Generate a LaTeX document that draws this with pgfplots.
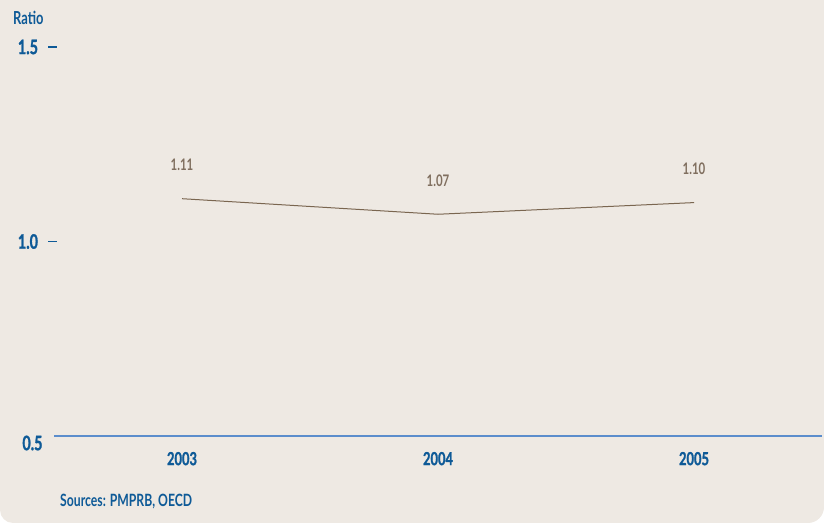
\documentclass[border=0pt]{standalone}
\usepackage{pgfplots}
\pgfplotsset{compat=1.18}
\usepackage{fontspec}
\setmainfont{Lato}[FakeStretch=0.72]
\newfontfamily\heavy{Lato}[FakeStretch=0.72, FakeBold=1.2]
\definecolor{bg}{HTML}{EEE9E3}
\definecolor{lblue}{HTML}{0E5A97}
\definecolor{ablue}{HTML}{5B8DCC}
\definecolor{lbrown}{HTML}{7A6650}
\definecolor{dlab}{HTML}{806F5F}
\begin{document}
\begin{tikzpicture}[x=1bp,y=1bp]
\path[use as bounding box] (0,0) rectangle (824,523);
\fill[bg] (0,523) -- (824,523) -- (824,16) arc[start angle=0,end angle=-90,radius=16] -- (13,0) arc[start angle=270,end angle=180,radius=13] -- cycle;
\begin{axis}[
  at={(54bp,87bp)}, anchor=south west,
  scale only axis, width=768bp, height=389bp,
  xmin=-0.5, xmax=2.5, ymin=0.5, ymax=1.5,
  axis x line=bottom, axis y line=left,
  x axis line style={color=ablue, draw=ablue, line width=1.2bp, -},
  y axis line style={draw=none},
  xtick={0,1,2}, xticklabels={2003,2004,2005},
  xtick style={draw=none},
  xticklabel style={font=\fontsize{18}{20}\selectfont\heavy\bfseries, text=lblue, yshift=-8bp},
  ytick={1,1.5}, yticklabels={1.0,1.5},
  extra y ticks={0.5}, extra y tick labels={0.5},
  extra y tick style={major tick length=0pt, yticklabel style={yshift=-7bp}},
  ytick style={draw=lblue, line width=1.2bp, xshift=-1.5bp},
  major tick length=9bp, tick align=center,
  yticklabel style={font=\fontsize{20}{22}\selectfont\heavy\bfseries, text=lblue, xshift=-8bp},
  clip=false,
]
\addplot[lbrown, line width=1bp, nodes near coords, point meta=explicit symbolic,
  every node near coord/.append style={anchor=center, yshift=34bp, text=dlab, font=\fontsize{16}{18}\selectfont\bfseries}]
  coordinates {(0,1.11)[1.11] (1,1.07)[1.07] (2,1.10)[1.10]};
\end{axis}
\node[anchor=west, text=lblue, font=\fontsize{18}{20}\selectfont\bfseries, inner sep=0pt] at (13,505) {Ratio};
\node[anchor=west, text=lblue, font=\fontsize{17}{19}\selectfont\bfseries, inner sep=0pt] at (60,21) {Sources: PMPRB, OECD};
\end{tikzpicture}
\end{document}
